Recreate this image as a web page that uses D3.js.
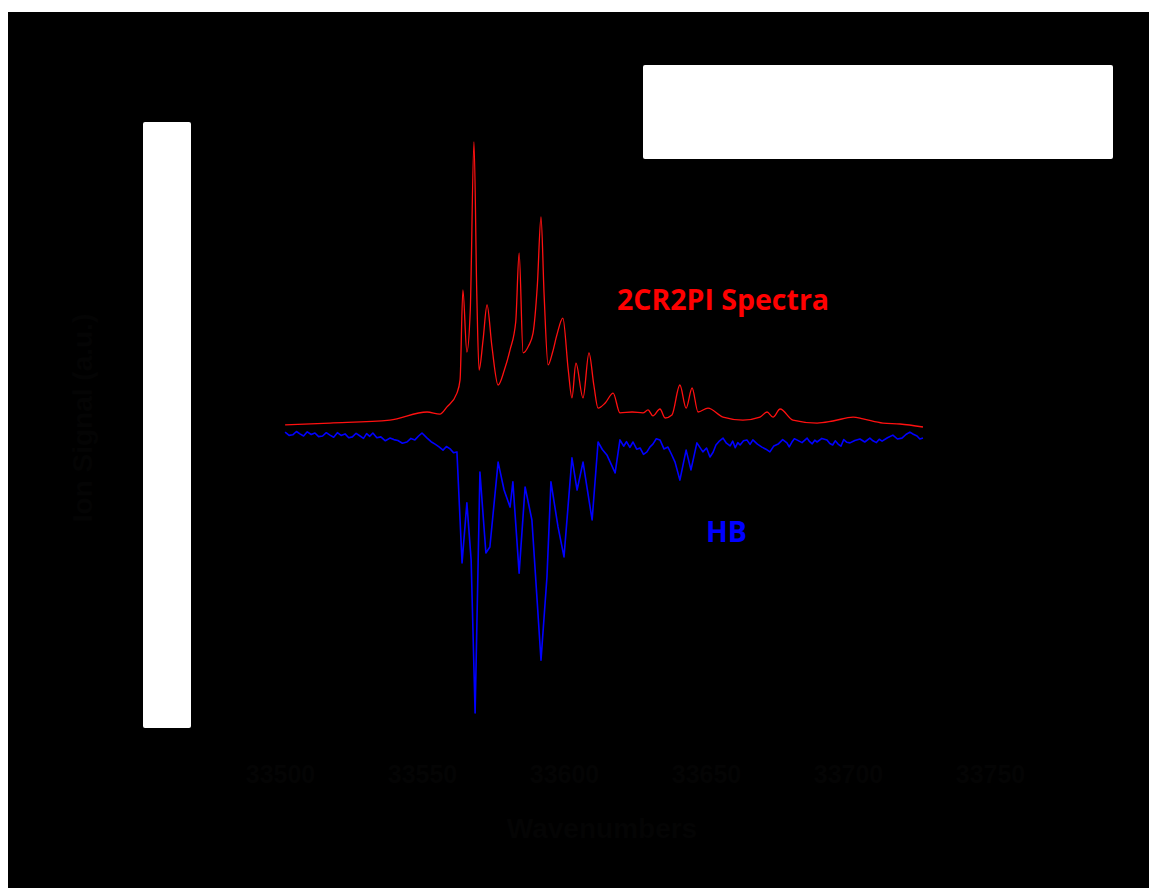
<!DOCTYPE html>
<html>
<head>
<meta charset="utf-8">
<script src="https://cdn.jsdelivr.net/npm/d3@7"></script>
<style>
  html, body { margin: 0; padding: 0; background: #fff; }
  svg { display: block; }
</style>
</head>
<body>
<svg id="chart" width="1149" height="888"></svg>
<script>
// Two-colour R2PI spectrum (positive) and hole-burning spectrum (depletion, negative)
const xTicks = [33500, 33550, 33600, 33650, 33700, 33750];

const r2piWavenumber = [
  33501.8, 33517.6, 33538.7, 33551.8, 33556.3, 33558.8, 33562.3, 33563.4, 33564.4, 33565.8,
  33567.0, 33568.3, 33569.3, 33570.1, 33571.5, 33572.9, 33574.6, 33576.8, 33579.0, 33581.0,
  33583.0, 33584.2, 33585.6, 33587.5, 33589.1, 33590.6, 33591.9, 33593.0, 33594.4, 33596.0,
  33597.5, 33599.6, 33601.5, 33602.8, 33604.2, 33606.7, 33608.8, 33610.5, 33612.0, 33614.5,
  33617.3, 33619.7, 33624.0, 33627.8, 33629.6, 33631.3, 33633.8, 33635.6, 33638.0, 33640.8,
  33643.0, 33645.1, 33647.2, 33650.7, 33656.0, 33663.0, 33669.0, 33671.5, 33673.6, 33676.1,
  33680.6, 33689.1, 33694.7, 33701.8, 33705.3, 33712.3, 33718.3, 33726.4
];
const r2piSignal = [
  1.7, 2.3, 3.3, 6.0, 5.3, 7.7, 12.3, 16.7, 46.7, 26.0,
  40.0, 96.0, 45.0, 20.0, 30.0, 41.7, 28.0, 15.0, 20.0, 26.7,
  36.0, 59.0, 25.7, 28.0, 32.3, 48.0, 71.0, 45.0, 21.7, 26.0,
  31.7, 37.3, 20.0, 10.7, 22.3, 10.7, 25.7, 15.0, 7.3, 9.0,
  12.3, 5.7, 6.0, 5.7, 6.7, 4.7, 7.0, 4.0, 5.0, 15.0,
  7.3, 14.0, 6.0, 7.3, 4.3, 3.3, 4.3, 6.0, 4.3, 7.0,
  3.3, 2.3, 3.0, 4.3, 3.7, 2.3, 2.0, 1.0
];

const hbWavenumber = [
  33501.8, 33503.2, 33504.5, 33505.8, 33507.0, 33508.3, 33509.6, 33511.0, 33512.3, 33513.6,
  33515.0, 33516.3, 33517.6, 33518.9, 33520.2, 33521.5, 33522.9, 33524.2, 33525.5, 33526.8,
  33528.2, 33529.4, 33530.5, 33531.6, 33532.7, 33534.1, 33535.5, 33537.1, 33538.7, 33540.1,
  33541.5, 33543.1, 33544.7, 33546.1, 33547.5, 33548.8, 33550.0, 33551.8, 33553.2, 33554.6,
  33556.0, 33557.4, 33558.6, 33559.9, 33561.1, 33562.3, 33564.1, 33565.8, 33567.3, 33568.7,
  33570.4, 33572.5, 33573.9, 33576.8, 33578.9, 33581.0, 33582.0, 33584.2, 33586.3, 33588.7,
  33591.9, 33594.0, 33595.4, 33597.9, 33600.0, 33602.8, 33604.6, 33606.7, 33609.9, 33612.0,
  33613.5, 33615.1, 33618.0, 33619.7, 33621.0, 33622.0, 33623.2, 33624.3, 33625.6, 33626.8,
  33628.0, 33629.2, 33630.3, 33631.3, 33632.5, 33633.8, 33635.2, 33636.6, 33637.8, 33639.1,
  33640.8, 33643.0, 33644.7, 33646.8, 33648.9, 33650.2, 33651.4, 33652.5, 33653.5, 33654.8,
  33656.0, 33657.2, 33658.5, 33659.4, 33660.3, 33661.2, 33662.0, 33663.2, 33664.4, 33665.5,
  33666.5, 33668.1, 33669.7, 33671.1, 33672.5, 33673.9, 33675.4, 33677.0, 33678.5, 33679.3,
  33680.2, 33681.1, 33682.0, 33683.8, 33685.6, 33686.5, 33687.4, 33688.3, 33689.1, 33690.8,
  33692.6, 33693.6, 33694.6, 33695.5, 33696.5, 33697.5, 33698.5, 33699.6, 33700.7, 33702.4,
  33704.2, 33705.9, 33707.7, 33708.8, 33710.0, 33711.0, 33712.0, 33713.9, 33715.8, 33717.4,
  33719.0, 33720.4, 33721.8, 33723.0, 33724.3, 33725.3, 33726.4
];
const hbSignal = [
  -0.7, -1.8, -1.6, -0.5, -1.3, -2.0, -0.6, -1.5, -1.0, -2.2,
  -2.0, -0.9, -1.7, -2.4, -0.9, -1.8, -1.3, -2.6, -2.3, -1.1,
  -2.0, -2.8, -1.2, -2.1, -1.0, -2.6, -2.3, -3.6, -2.7, -3.2,
  -3.5, -4.4, -4.0, -2.8, -3.3, -2.0, -1.0, -2.7, -3.9, -4.7,
  -5.6, -6.7, -5.5, -6.3, -7.6, -7.3, -44.3, -24.3, -43.3, -94.3,
  -14.0, -41.0, -39.0, -10.7, -20.0, -25.7, -17.3, -47.7, -19.0, -30.0,
  -76.7, -49.0, -17.3, -32.3, -42.3, -9.3, -20.0, -10.7, -30.0, -4.0,
  -6.5, -8.3, -14.3, -3.3, -5.4, -3.9, -5.8, -4.0, -6.4, -6.0,
  -8.1, -7.3, -5.6, -4.7, -2.9, -3.3, -6.3, -5.7, -8.0, -10.7,
  -16.7, -6.7, -13.3, -4.3, -7.3, -6.0, -9.0, -7.4, -5.0, -3.6,
  -2.7, -4.4, -5.3, -3.7, -5.9, -4.2, -5.0, -3.6, -3.3, -4.8,
  -3.3, -4.7, -5.7, -6.4, -7.3, -5.3, -4.7, -3.2, -4.3, -5.6,
  -4.1, -2.9, -3.3, -4.2, -2.7, -3.9, -4.6, -3.4, -4.0, -2.8,
  -3.3, -4.5, -5.0, -3.6, -4.7, -5.4, -3.2, -4.1, -4.3, -3.5,
  -3.0, -4.0, -2.7, -3.6, -4.2, -3.1, -3.7, -2.6, -1.7, -3.0,
  -2.7, -1.5, -0.7, -1.4, -2.0, -3.0, -2.7
];

const labelR2PI = "2CR2PI Spectra";
const labelHB = "HB";
const xTitle = "Wavenumbers";
const yTitle = "Ion Signal (a.u.)";

const svg = d3.select("#chart");

// dark canvas inside the white frame
svg.append("rect").attr("x", 8).attr("y", 12).attr("width", 1141).attr("height", 876).attr("fill", "#000");

const x = d3.scaleLinear().domain([33500, 33750]).range([280, 990]);
const y = d3.scaleLinear().domain([-100, 100]).range([730, 130]);

// axes (near-black on the dark canvas)
const axisColor = "#040404";
const xAxis = svg.append("g")
  .attr("transform", "translate(0,745)")
  .call(d3.axisBottom(x).tickValues(xTicks).tickFormat(d3.format("d")).tickSize(0).tickPadding(20));
xAxis.select(".domain").attr("stroke", "#000");
xAxis.selectAll("text")
  .attr("fill", axisColor)
  .style("font-family", "'Liberation Sans', Arial, sans-serif")
  .style("font-weight", "bold")
  .style("font-size", "25px");

svg.append("text")
  .attr("x", 602).attr("y", 838)
  .attr("text-anchor", "middle")
  .attr("fill", axisColor)
  .style("font-family", "'Liberation Sans', Arial, sans-serif")
  .style("font-weight", "bold")
  .style("font-size", "28px")
  .text(xTitle);

svg.append("text")
  .attr("transform", "translate(92,418) rotate(-90)")
  .attr("text-anchor", "middle")
  .attr("fill", axisColor)
  .style("font-family", "'Liberation Sans', Arial, sans-serif")
  .style("font-weight", "bold")
  .style("font-size", "28px")
  .text(yTitle);

// white panels
svg.append("rect").attr("x", 143).attr("y", 122).attr("width", 48).attr("height", 606)
  .attr("rx", 2).attr("fill", "#fff");
svg.append("rect").attr("x", 643).attr("y", 65).attr("width", 470).attr("height", 94)
  .attr("rx", 2).attr("fill", "#fff");

// spectra
const redLine = d3.line()
  .x(d => x(d[0]))
  .y(d => y(d[1]))
  .curve(d3.curveMonotoneX);
const blueLine = d3.line()
  .x(d => x(d[0]))
  .y(d => y(d[1]));

svg.append("path")
  .datum(d3.zip(hbWavenumber, hbSignal))
  .attr("fill", "none")
  .attr("stroke", "#0000ff")
  .attr("stroke-width", 1.6)
  .attr("stroke-linejoin", "round")
  .attr("d", blueLine);

svg.append("path")
  .datum(d3.zip(r2piWavenumber, r2piSignal))
  .attr("fill", "none")
  .attr("stroke", "#ff1010")
  .attr("stroke-width", 1.3)
  .attr("stroke-linejoin", "round")
  .attr("d", redLine);

// series labels
svg.append("text")
  .attr("x", 617).attr("y", 310)
  .attr("fill", "#ff0000")
  .style("font-family", "'Open Sans', sans-serif")
  .style("font-weight", "bold")
  .style("font-size", "28.5px")
  .text(labelR2PI);

svg.append("text")
  .attr("x", 706).attr("y", 542)
  .attr("fill", "#0000ff")
  .style("font-family", "'Open Sans', sans-serif")
  .style("font-weight", "bold")
  .style("font-size", "28.5px")
  .text(labelHB);
</script>
</body>
</html>
